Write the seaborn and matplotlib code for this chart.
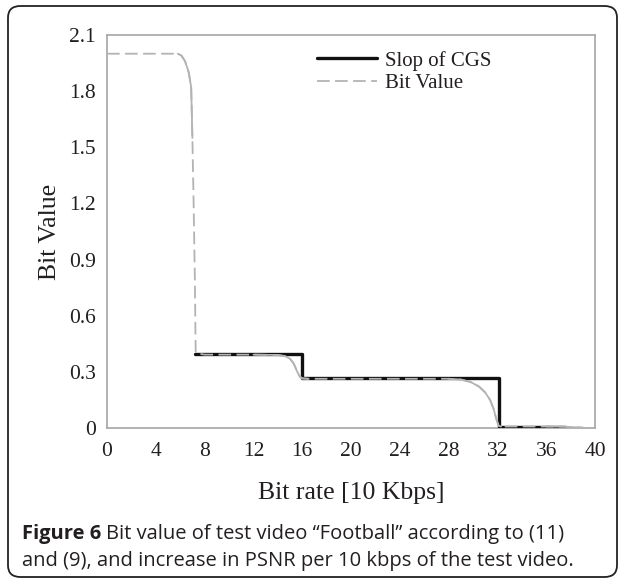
import matplotlib
matplotlib.use("Agg")
import matplotlib.pyplot as plt
import seaborn as sns
import pandas as pd
from matplotlib.patches import FancyBboxPatch

# ---- data ----
cgs_x = [7.25, 15.95, 15.95, 32.1, 32.1, 37.5]
cgs_y = [0.397, 0.397, 0.266, 0.266, 0.006, 0.006]

bit_x = [0, 5.8, 6.1, 6.4, 6.7, 6.9, 7.0, 7.1, 7.2, 7.27, 8, 12, 14.0, 14.6, 15.0, 15.3, 15.6,
         15.8, 16.0, 16.5, 20, 28, 29.0, 29.8, 30.5, 31.0, 31.4, 31.7, 31.9, 32.1, 32.3, 36,
         37.5, 38.3, 39.0]
bit_y = [2.0, 2.0, 1.99, 1.96, 1.90, 1.82, 1.55, 1.2, 0.8, 0.40, 0.392, 0.392, 0.390, 0.384,
         0.370, 0.345, 0.300, 0.275, 0.265, 0.263, 0.263, 0.263, 0.259, 0.246, 0.221, 0.190,
         0.150, 0.100, 0.050, 0.012, 0.008, 0.008, 0.007, 0.004, 0.002]
# index ranges of the smooth (solid-looking) transitions in the Bit Value curve
curve_parts = [(1, 6), (11, 19), (21, 30), (31, 35)]

x_ticks = [0, 4, 8, 12, 16, 20, 24, 28, 32, 36, 40]
y_ticks = [0, 0.3, 0.6, 0.9, 1.2, 1.5, 1.8, 2.1]
y_tick_labels = ["0", "0.3", "0.6", "0.9", "1.2", "1.5", "1.8", "2.1"]

sns.set_style("white")
plt.rcParams['font.family'] = ['Liberation Serif', 'DejaVu Serif']

W, H = 625, 583
fig = plt.figure(figsize=(6.25, 5.83), dpi=100)
ax = fig.add_axes([107 / W, 1 - 428 / H, 488 / W, 393 / H])

grey = "#b3b3b3"
txt = "#231f20"
df_cgs = pd.DataFrame({"x": cgs_x, "y": cgs_y})
df_bit = pd.DataFrame({"x": bit_x, "y": bit_y})

sns.lineplot(data=df_cgs, x="x", y="y", ax=ax, sort=False, estimator=None,
             color="#111111", linewidth=2.4, label="Slop of CGS", zorder=3)
for a, b in curve_parts:
    sub = df_bit.iloc[a:b + 1]
    sns.lineplot(data=sub, x="x", y="y", ax=ax, sort=False, estimator=None,
                 color=grey, linewidth=1.3, legend=False, zorder=4)
sns.lineplot(data=df_bit, x="x", y="y", ax=ax, sort=False, estimator=None,
             color=grey, linewidth=1.3, label="Bit Value", zorder=4)
ax.lines[-1].set_dashes([7, 3])

ax.set_xlim(0, 40)
ax.set_ylim(0, 2.1)
ax.set_xticks(x_ticks)
ax.set_yticks(y_ticks)
ax.set_yticklabels(y_tick_labels)
ax.tick_params(axis="both", which="major", direction="out", length=5, width=1,
               color="#999999", labelsize=15.5, labelcolor=txt)
ax.tick_params(axis="x", pad=5)
ax.tick_params(axis="y", pad=3)
for s in ax.spines.values():
    s.set_visible(True)
    s.set_color("#a6a6a6")
    s.set_linewidth(1.2)

ax.set_xlabel("Bit rate [10 Kbps]", fontsize=18.5, color=txt, labelpad=15)
ax.set_ylabel("Bit Value", fontsize=18.5, color=txt, labelpad=6)

# legend with dashed handle
handles, labels = ax.get_legend_handles_labels()
leg = ax.legend(handles, labels, loc="upper left", bbox_to_anchor=(0.43, 0.96),
                frameon=False, fontsize=15, handlelength=2.9, handletextpad=0.35,
                labelspacing=0.15, borderpad=0, borderaxespad=0)
for t in leg.get_texts():
    t.set_color(txt)
leg.get_lines()[1].set_dashes([7, 3])

# caption
cap_fs = 14.5
y1 = 1 - 534 / H
y2 = 1 - 561 / H
t1 = fig.text(22 / W, y1, "Figure 6", fontsize=cap_fs, fontweight="bold",
              family="Open Sans", va="center", ha="left", color=txt)
fig.canvas.draw()
bb = t1.get_window_extent()
fig.text((bb.x1 + 5) / W, y1,
         "Bit value of test video \u201cFootball\u201d according to (11)",
         fontsize=cap_fs, family="Open Sans", va="center", ha="left", color=txt)
fig.text(22 / W, y2,
         "and (9), and increase in PSNR per 10 kbps of the test video.",
         fontsize=cap_fs, family="Open Sans", va="center", ha="left", color=txt)

# rounded frame
frame = FancyBboxPatch((8 / W, 6 / H), 609 / W, 571 / H,
                       boxstyle="round,pad=0,rounding_size=0.02",
                       transform=fig.transFigure, fill=False,
                       edgecolor="#222222", linewidth=1.3)
fig.patches.append(frame)

fig.savefig("out.png", dpi=100)
